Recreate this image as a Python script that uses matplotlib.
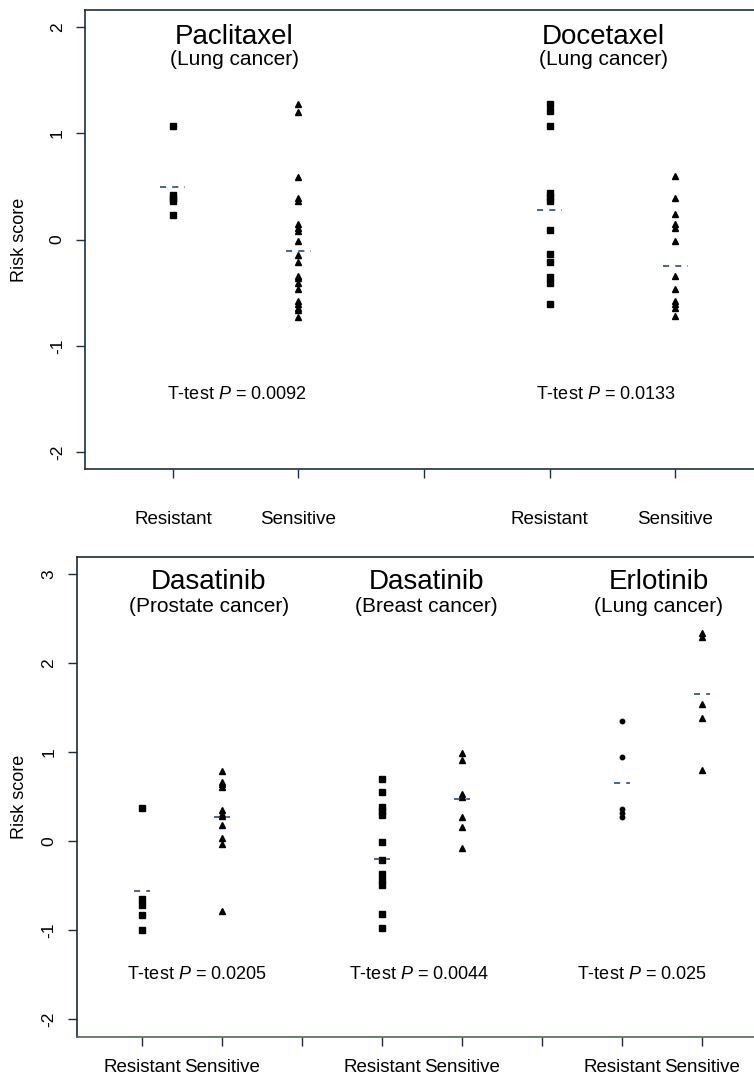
import matplotlib
matplotlib.use("Agg")
import matplotlib.pyplot as plt

plt.rcParams['font.family'] = ['Liberation Sans', 'DejaVu Sans']
plt.rcParams['mathtext.fontset'] = 'custom'
plt.rcParams['mathtext.rm'] = 'Liberation Sans'
plt.rcParams['mathtext.it'] = 'Liberation Sans:italic'
plt.rcParams['axes.unicode_minus'] = False

# top panel data (risk scores)
pac_res = [1.07, 0.42, 0.39, 0.36, 0.23]
pac_sen = [1.28, 1.20, 0.59, 0.39, 0.36, 0.15, 0.11, 0.08, -0.01, -0.15,
           -0.21, -0.34, -0.36, -0.41, -0.47, -0.58, -0.61, -0.64, -0.66, -0.73]
doc_res = [1.28, 1.21, 1.07, 0.44, 0.40, 0.36, 0.09, -0.14, -0.21, -0.35, -0.41, -0.61]
doc_sen = [0.60, 0.39, 0.24, 0.15, 0.11, -0.01, -0.34, -0.47, -0.58, -0.61, -0.64, -0.72]
top_means = [0.49, -0.11, 0.28, -0.25]

# bottom panel data
pro_res = [0.37, -0.65, -0.72, -0.83, -1.00]
pro_sen = [0.79, 0.67, 0.64, 0.61, 0.35, 0.31, 0.28, 0.18, 0.04, -0.03, -0.78]
bre_res = [0.70, 0.55, 0.38, 0.34, 0.29, -0.01, -0.21, -0.37, -0.43, -0.49, -0.82, -0.97]
bre_sen = [0.99, 0.91, 0.53, 0.50, 0.27, 0.16, -0.08]
erl_res = [1.35, 0.95, 0.36, 0.32, 0.27]
erl_sen = [2.34, 2.29, 1.54, 1.38, 0.80]
bottom_means = [-0.56, 0.27, -0.20, 0.47, 0.65, 1.66]

top_labels = ['Resistant', 'Sensitive', '', 'Resistant', 'Sensitive']
bottom_labels = ['Resistant', 'Sensitive', '', 'Resistant', 'Sensitive', '',
                 'Resistant', 'Sensitive']

fig = plt.figure(figsize=(7.54, 10.79), dpi=100)

navy = '#1c2d4c'
mean_col = '#1f3a66'


def style(ax, color, xticklabels, pad_x, ylab_x):
    for s in ax.spines.values():
        s.set_color(color)
        s.set_linewidth(1.2)
    ax.tick_params(axis='both', direction='out', length=6.5, width=1, colors=color,
                   labelcolor='black', labelsize=12.5)
    ax.tick_params(axis='y', labelrotation=90, pad=8)
    for lab in ax.get_yticklabels():
        lab.set_va('center')
    ax.tick_params(axis='x', pad=pad_x, labelsize=13.5)
    ax.set_xticks(range(1, len(xticklabels) + 1))
    ax.set_xticklabels(xticklabels)
    ax.set_ylabel('Risk score', fontsize=13)
    ax.yaxis.set_label_coords(ylab_x, 0.5)


def group(ax, x, vals, marker, ms):
    ax.plot([x] * len(vals), vals, linestyle='none', marker=marker, ms=ms,
            color='black', mec='black')


def mean_line(ax, x, m):
    ax.plot([x - 0.1, x + 0.1], [m, m], color=mean_col, lw=1.1,
            linestyle=(0, (4, 4)))


# ---- top panel ----
ax1 = fig.add_axes([85 / 754, 1 - 469 / 1079, (763 - 85) / 754, 459 / 1079])
ax1.set_xlim(0.3, 5.7)
ax1.set_ylim(-2.16, 2.16)
ax1.set_yticks([-2, -1, 0, 1, 2])
style(ax1, navy, top_labels, 24, (28 - 85) / 678)

group(ax1, 1, pac_res, 's', 3.8)
group(ax1, 2, pac_sen, '^', 4.2)
group(ax1, 4, doc_res, 's', 3.8)
group(ax1, 5, doc_sen, '^', 4.2)
for x, m in zip([1, 2, 4, 5], top_means):
    mean_line(ax1, x, m)

ax1.text(1.49, 1.91, 'Paclitaxel', fontsize=20, ha='center', va='center')
ax1.text(1.49, 1.69, '(Lung cancer)', fontsize=15, ha='center', va='center')
ax1.text(4.43, 1.91, 'Docetaxel', fontsize=20, ha='center', va='center')
ax1.text(4.43, 1.69, '(Lung cancer)', fontsize=15, ha='center', va='center')
ax1.text(1.51, -1.46, r'T-test $\it{P}$ = 0.0092', fontsize=13, ha='center', va='center')
ax1.text(4.45, -1.46, r'T-test $\it{P}$ = 0.0133', fontsize=13, ha='center', va='center')

# ---- bottom panel ----
ax2 = fig.add_axes([76.7 / 754, 1 - 1037 / 1079, (768 - 76.7) / 754, (1037 - 556.5) / 1079])
ax2.set_xlim(0.18, 8.82)
ax2.set_ylim(-2.2, 3.2)
ax2.set_yticks([-2, -1, 0, 1, 2, 3])
style(ax2, '#1e2a3a', bottom_labels, 9, (28 - 76.7) / 691.3)
ax2.spines['bottom'].set_color('#4f6b4a')

group(ax2, 1, pro_res, 's', 3.8)
group(ax2, 2, pro_sen, '^', 4.2)
group(ax2, 4, bre_res, 's', 3.8)
group(ax2, 5, bre_sen, '^', 4.2)
group(ax2, 7, erl_res, 'o', 3.2)
group(ax2, 8, erl_sen, '^', 4.2)
for x, m in zip([1, 2, 4, 5, 7, 8], bottom_means):
    mean_line(ax2, x, m)

ax2.text(1.83, 2.91, 'Dasatinib', fontsize=20, ha='center', va='center')
ax2.text(1.83, 2.64, '(Prostate cancer)', fontsize=15, ha='center', va='center')
ax2.text(4.55, 2.91, 'Dasatinib', fontsize=20, ha='center', va='center')
ax2.text(4.55, 2.64, '(Breast cancer)', fontsize=15, ha='center', va='center')
ax2.text(7.45, 2.91, 'Erlotinib', fontsize=20, ha='center', va='center')
ax2.text(7.45, 2.64, '(Lung cancer)', fontsize=15, ha='center', va='center')
ax2.text(1.68, -1.50, r'T-test $\it{P}$ = 0.0205', fontsize=13, ha='center', va='center')
ax2.text(4.46, -1.50, r'T-test $\it{P}$ = 0.0044', fontsize=13, ha='center', va='center')
ax2.text(7.25, -1.50, r'T-test $\it{P}$ = 0.025', fontsize=13, ha='center', va='center')

fig.savefig('out.png', dpi=100)
